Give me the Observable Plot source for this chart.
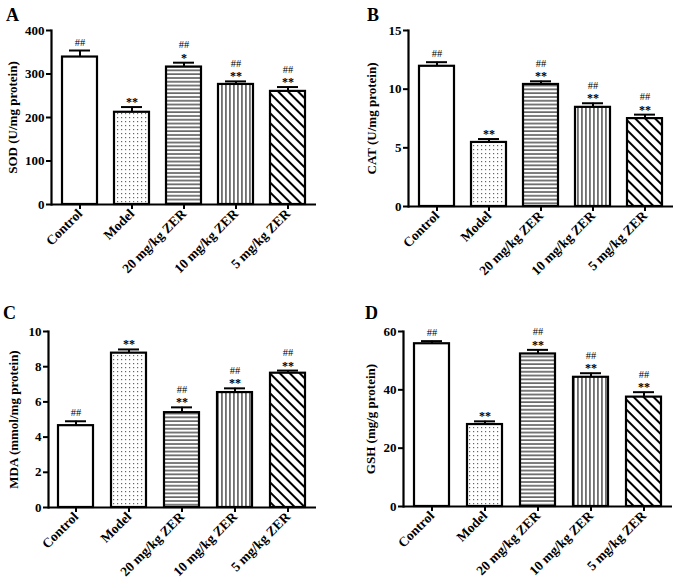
<!DOCTYPE html>
<html>
<head>
<meta charset="utf-8">
<script src="https://cdn.jsdelivr.net/npm/d3@7"></script>
<script src="https://cdn.jsdelivr.net/npm/@observablehq/plot@0.6"></script>
<style>
  html, body { margin: 0; padding: 0; background: #fff; }
  #wrap { position: relative; width: 677px; height: 583px; overflow: hidden; background: #fff; }
  .panel { position: absolute; }
  .letter { position: absolute; font-family: "Liberation Serif", serif; font-weight: bold; font-size: 18px; line-height: 1; }
</style>
</head>
<body>
<div id="wrap">
<svg width="0" height="0" style="position:absolute">
  <defs>
    <pattern id="pDots" width="4" height="4" patternUnits="userSpaceOnUse">
      <rect width="4" height="4" fill="#fff"/>
      <rect x="1" y="1" width="1.2" height="1.2" fill="#666"/>
    </pattern>
    <pattern id="pHoriz" width="4" height="3.8" patternUnits="userSpaceOnUse">
      <rect width="4" height="3.8" fill="#fff"/>
      <rect x="0" y="1.4" width="4" height="1.1" fill="#111"/>
    </pattern>
    <pattern id="pVert" width="4" height="4" patternUnits="userSpaceOnUse">
      <rect width="4" height="4" fill="#fff"/>
      <rect x="1.4" y="0" width="1.1" height="4" fill="#111"/>
    </pattern>
    <pattern id="pDiag" width="7" height="7" patternUnits="userSpaceOnUse" patternTransform="rotate(45)">
      <rect width="7" height="7" fill="#fff"/>
      <rect x="0" y="0" width="7" height="2" fill="#000"/>
    </pattern>
  </defs>
</svg>
</div>
<script>
// ---- data ----
const categories = ["Control", "Model", "20 mg/kg ZER", "10 mg/kg ZER", "5 mg/kg ZER"];

const sodMean = [339, 212, 316, 276, 260];
const sodSem  = [15, 12, 10, 7, 10];
const sodHash = ["##", "", "##", "##", "##"];
const sodStar = ["", "**", "*", "**", "**"];

const catMean = [11.95, 5.46, 10.4, 8.45, 7.49];
const catSem  = [0.35, 0.29, 0.27, 0.35, 0.34];
const catHash = ["##", "", "##", "##", "##"];
const catStar = ["", "**", "**", "**", "**"];

const mdaMean = [4.65, 8.77, 5.39, 6.53, 7.63];
const mdaSem  = [0.25, 0.21, 0.30, 0.24, 0.15];
const mdaHash = ["##", "", "##", "##", "##"];
const mdaStar = ["", "**", "**", "**", "**"];

const gshMean = [55.8, 28.1, 52.3, 44.3, 37.5];
const gshSem  = [0.9, 1.1, 1.4, 1.4, 1.7];
const gshHash = ["##", "", "##", "##", "##"];
const gshStar = ["", "**", "**", "**", "**"];

const patternIds = ["none", "pDots", "pHoriz", "pVert", "pDiag"];

const panels = [
  {letter: "A", mean: sodMean, sem: sodSem, hash: sodHash, star: sodStar, domain: [0, 400], ticks: [0, 100, 200, 300, 400],
   label: "SOD (U/mg protein)", left: 0, top: 0, width: 338, height: 290, mL: 51, mR: 22, mT: 30, mB: 86, lOff: 44, lx: 6, ly: 6},
  {letter: "B", mean: catMean, sem: catSem, hash: catHash, star: catStar, domain: [0, 15], ticks: [0, 5, 10, 15],
   label: "CAT (U/mg protein)", left: 340, top: 0, width: 337, height: 290, mL: 68, mR: 4, mT: 30, mB: 84, lOff: 42, lx: 27, ly: 6},
  {letter: "C", mean: mdaMean, sem: mdaSem, hash: mdaHash, star: mdaStar, domain: [0, 10], ticks: [0, 2, 4, 6, 8, 10],
   label: "MDA (mmol/mg protein)", left: 0, top: 290, width: 338, height: 293, mL: 48, mR: 22, mT: 41, mB: 76, lOff: 40, lx: 3, ly: 14},
  {letter: "D", mean: gshMean, sem: gshSem, hash: gshHash, star: gshStar, domain: [0, 60], ticks: [0, 20, 40, 60],
   label: "GSH (mg/g protein)", left: 340, top: 290, width: 337, height: 293, mL: 63, mR: 5, mT: 41, mB: 77, lOff: 38, lx: 25, ly: 14}
];

const wrap = document.getElementById("wrap");

for (const p of panels) {
  const rows = categories.map((c, i) => ({
    cat: c,
    value: p.mean[i],
    upper: p.mean[i] + p.sem[i],
    hash: p.hash[i],
    star: p.star[i]
  }));
  const withStar = rows.filter(r => r.star);
  const stacked = withStar.filter(r => r.hash);
  const hashOnly = rows.filter(r => !r.star && r.hash);
  const barMarks = categories.map((c, i) => Plot.barY(rows.filter(r => r.cat === c), {
    x: "cat", y: "value",
    fill: patternIds[i] === "none" ? "#fff" : `url(#${patternIds[i]})`,
    stroke: "#000", strokeWidth: 2.2
  }));
  const chart = Plot.plot({
    width: p.width, height: p.height,
    marginLeft: p.mL, marginRight: p.mR, marginTop: p.mT, marginBottom: p.mB,
    style: {fontFamily: "'Liberation Serif', 'Times New Roman', serif", fontWeight: "bold", fontSize: "13px", background: "transparent", color: "#000"},
    x: {domain: categories, paddingInner: 0.333, paddingOuter: 0.19, label: null},
    y: {domain: p.domain, label: null},
    marks: [
      Plot.ruleX(rows, {x: "cat", y1: "value", y2: "upper", stroke: "#000", strokeWidth: 2}),
      Plot.tickY(rows, {x: "cat", y: "upper", stroke: "#000", strokeWidth: 2, insetLeft: 7, insetRight: 7}),
      ...barMarks,
      Plot.ruleY([0], {stroke: "#000", strokeWidth: 2.2}),
      Plot.frame({anchor: "left", stroke: "#000", strokeWidth: 2.2}),
      Plot.axisY({ticks: p.ticks, tickSize: 5, tickPadding: 2, strokeWidth: 2, fontSize: 13, fontWeight: "bold", fill: "#000",
        label: p.label, labelAnchor: "center", labelOffset: p.lOff, labelArrow: "none"}),
      Plot.axisX({tickRotate: -45, tickSize: 5, tickPadding: 2, strokeWidth: 2, fontSize: 13.5, fontWeight: "bold", fill: "#000", label: null}),
      Plot.text(withStar, {x: "cat", y: "upper", text: "star", dy: -1, lineAnchor: "bottom",
        fontSize: 12, fontWeight: "bold", fill: "#000"}),
      Plot.text(stacked, {x: "cat", y: "upper", text: "hash", dy: -14.5, lineAnchor: "bottom",
        fontSize: 10.5, fontWeight: "normal", fill: "#000"}),
      Plot.text(hashOnly, {x: "cat", y: "upper", text: "hash", dy: -5, lineAnchor: "bottom",
        fontSize: 10.5, fontWeight: "normal", fill: "#000"})
    ]
  });
  chart.classList.add("panel");
  chart.style.left = p.left + "px";
  chart.style.top = p.top + "px";
  chart.style.position = "absolute";
  wrap.appendChild(chart);

  const lt = document.createElement("div");
  lt.className = "letter";
  lt.textContent = p.letter;
  lt.style.left = (p.left + p.lx) + "px";
  lt.style.top = (p.top + p.ly) + "px";
  wrap.appendChild(lt);
}
</script>
</body>
</html>
